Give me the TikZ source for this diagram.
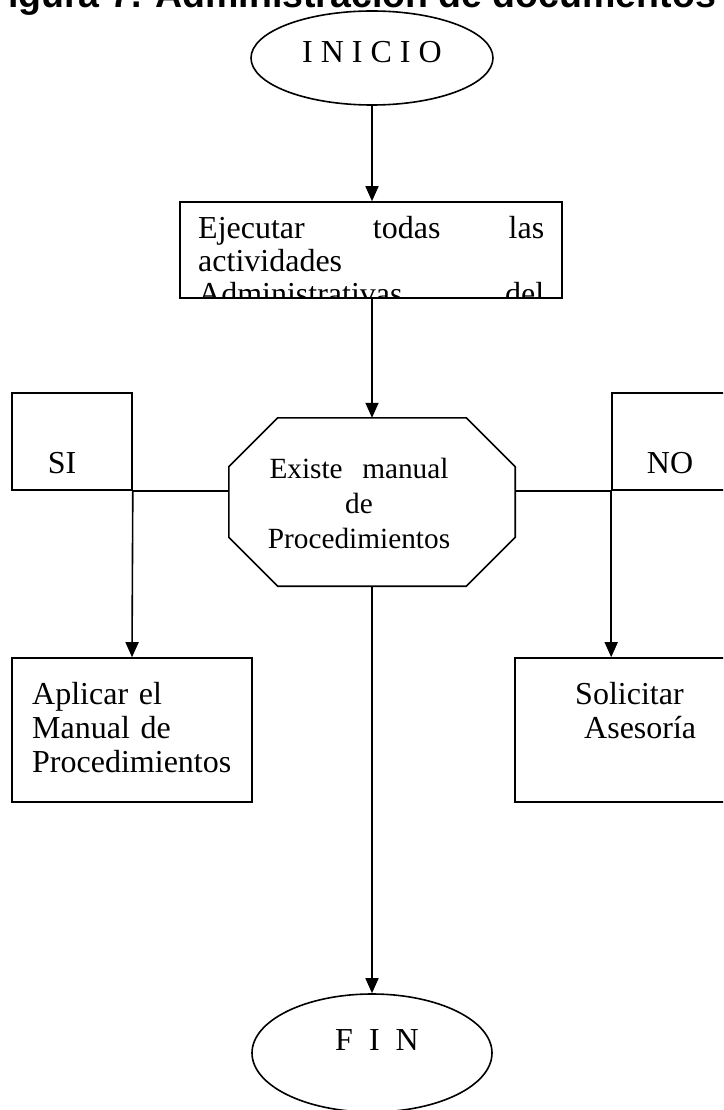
\documentclass[tikz,border=0pt]{standalone}
\usepackage{fontspec}
\setmainfont{Liberation Serif}
\newfontfamily\titlefont{Liberation Sans}
\usetikzlibrary{shapes.geometric,arrows.meta}

\begin{document}
\begin{tikzpicture}[x=1pt,y=-1pt]
  \tikzset{
    term/.style={ellipse, draw, line width=1.6pt, minimum width=242pt, minimum height=94pt, inner sep=0pt},
    box/.style={rectangle, draw, line width=1.6pt, inner sep=0pt},
    lbl/.style={draw=none, fill=none, inner sep=0pt},
    big/.style={font=\fontsize{32}{34}\selectfont},
    link/.style={line width=1.6pt},
    flow/.style={line width=1.6pt, -{Triangle[length=15pt,width=13pt]}}
  }

  % page frame, everything outside is cut
  \useasboundingbox (0,0) rectangle (723,1110);
  \clip (0,0) rectangle (723,1110);

  % caption (top half falls off the page)
  \node[lbl, anchor=base west, font={\titlefont\bfseries\fontsize{37.5}{40}\selectfont}] (titulo) at (-15,8)
    {Figura 7. Administración de documentos};

  % start
  \node[term] (inicio) at (372,58) {};
  \node[lbl, anchor=base, big] (inicio-t) at (372,63) {I N I C I O};

  % first task, text runs past the frame
  \node[box, minimum width=382pt, minimum height=96pt] (tareas) at (371,250) {};
  \begin{scope}
    \clip (tareas.north west) rectangle (tareas.south east);
    \node[lbl, anchor=base west, text width=346pt, align=left, font=\fontsize{32}{33}\selectfont] (tareas-t) at (198,238)
      {Ejecutar\hfill todas\hfill las\\actividades\\Administrativas\hfill del};
  \end{scope}

  % decision (octagon drawn on the node corners)
  \node[lbl, minimum width=286pt, minimum height=168pt] (decision) at (372,502) {};
  \draw[link] ([xshift=49pt]decision.north west) -- ([xshift=-49pt]decision.north east)
    -- ([yshift=-49pt]decision.north east) -- ([yshift=49pt]decision.south east)
    -- ([xshift=-49pt]decision.south east) -- ([xshift=49pt]decision.south west)
    -- ([yshift=49pt]decision.south west) -- ([yshift=-49pt]decision.north west) -- cycle;
  \node[lbl, anchor=base, text width=220pt, align=center, font=\fontsize{29.3}{35}\selectfont] (decision-t) at (359,478)
    {Existe\ \ manual\\de\\Procedimientos};

  % answer tags
  \node[box, minimum width=120pt, minimum height=97pt] (si) at (72,441.5) {};
  \node[lbl, anchor=base, big] (si-t) at (62,473) {SI};
  \node[box, minimum width=120pt, minimum height=97pt] (no) at (672,441.5) {};
  \node[lbl, anchor=base, big] (no-t) at (670,473) {NO};

  % actions
  \node[box, minimum width=240pt, minimum height=144pt] (aplicar) at (132,730) {};
  \node[lbl, anchor=base west, text width=220pt, align=left, big] (aplicar-t) at (32,704)
    {Aplicar el\\Manual de\\Procedimientos};
  \node[box, minimum width=220pt, minimum height=144pt] (solicitar) at (625,730) {};
  \node[lbl, anchor=base west, text width=140pt, align=left, big] (solicitar-t) at (575,704)
    {Solicitar\\\hspace*{9pt}Asesoría};

  % end
  \node[term, minimum width=240pt, minimum height=118pt] (fin) at (372,1053) {};
  \node[lbl, anchor=base, big] (fin-t) at (377,1050) {F\ \ I\ \ N};

  % connectors
  \draw[flow] (inicio.south) -- (inicio.south |- tareas.north);
  \draw[flow] (inicio.south |- tareas.south) -- (decision.north);
  \draw[link] (si.south east) -- (si.south east -| decision.west);
  \draw[link] (decision.east |- no.south west) -- (no.south west);
  \draw[flow] (si.south east) -- (aplicar.north);
  \draw[flow] (no.south west) -- (no.south west |- solicitar.north);
  \draw[flow] (decision.south) -- (fin.north);
\end{tikzpicture}
\end{document}
